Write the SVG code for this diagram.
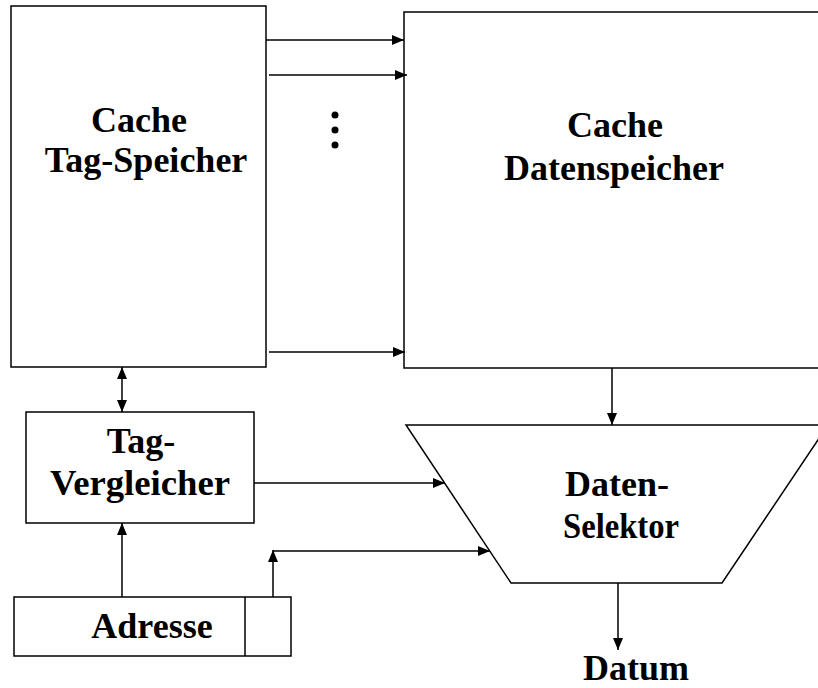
<svg xmlns="http://www.w3.org/2000/svg" width="818" height="688" viewBox="0 0 818 688">
  <style>
    .box { fill: #fff; stroke: #000; stroke-width: 1.5; }
    .wire { fill: none; stroke: #000; stroke-width: 1.5; }
    .label { font-family: "Liberation Serif", "Times New Roman", serif; font-weight: bold; font-size: 36px; fill: #000; text-anchor: middle; }
  </style>
  <defs>
    <marker id="arrow" viewBox="0 0 12 10" refX="12" refY="5" markerWidth="12" markerHeight="10" markerUnits="userSpaceOnUse" orient="auto-start-reverse">
      <path d="M0,0 L12,5 L0,10 Z" fill="#000"/>
    </marker>
  </defs>
  <rect width="818" height="688" fill="#fff"/>

  <!-- tag memory -->
  <g id="tag-speicher">
    <rect class="box" x="11" y="6" width="255" height="361"/>
    <text class="label" x="139" y="132">Cache</text>
    <text class="label" x="146" y="172">Tag-Speicher</text>
  </g>

  <!-- data memory (runs past the right edge) -->
  <g id="datenspeicher">
    <rect class="box" x="404" y="12" width="430" height="356"/>
    <text class="label" x="615" y="137">Cache</text>
    <text class="label" x="614" y="180">Datenspeicher</text>
  </g>

  <g id="tag-vergleicher">
    <rect class="box" x="26" y="412" width="228" height="111"/>
    <text class="label" x="141" y="453">Tag-</text>
    <text class="label" x="140" y="495" textLength="180" lengthAdjust="spacingAndGlyphs">Vergleicher</text>
  </g>

  <!-- selector trapezoid, right corner beyond the edge -->
  <g id="daten-selektor">
    <polygon class="box" points="406,425 828,425 722,583 511,583"/>
    <text class="label" x="617" y="496">Daten-</text>
    <text class="label" x="621" y="538" textLength="116" lengthAdjust="spacingAndGlyphs">Selektor</text>
  </g>

  <g id="adresse">
    <rect class="box" x="14" y="597" width="277" height="59"/>
    <line class="wire" x1="245" y1="597" x2="245" y2="656"/>
    <text class="label" x="152" y="638">Adresse</text>
  </g>

  <g id="datum">
    <text class="label" x="636" y="680">Datum</text>
  </g>

  <g id="ellipsis">
    <circle cx="335" cy="115" r="3.5" fill="#000"/>
    <circle cx="335" cy="130" r="3.5" fill="#000"/>
    <circle cx="335" cy="145" r="3.5" fill="#000"/>
  </g>

  <g id="connectors">
    <line class="wire" x1="266" y1="40" x2="404" y2="40" marker-end="url(#arrow)"/>
    <line class="wire" x1="269" y1="75" x2="407" y2="75" marker-end="url(#arrow)"/>
    <line class="wire" x1="269" y1="352" x2="405" y2="352" marker-end="url(#arrow)"/>
    <line class="wire" x1="122" y1="367" x2="122" y2="412" marker-start="url(#arrow)" marker-end="url(#arrow)"/>
    <line class="wire" x1="612" y1="368" x2="612" y2="425" marker-end="url(#arrow)"/>
    <line class="wire" x1="254" y1="483" x2="445" y2="483" marker-end="url(#arrow)"/>
    <line class="wire" x1="122" y1="597" x2="122" y2="523" marker-end="url(#arrow)"/>
    <line class="wire" x1="273" y1="597" x2="273" y2="550" marker-end="url(#arrow)"/>
    <line class="wire" x1="273" y1="551" x2="490" y2="551" marker-end="url(#arrow)"/>
    <line class="wire" x1="618" y1="583" x2="618" y2="650" marker-end="url(#arrow)"/>
  </g>
</svg>
